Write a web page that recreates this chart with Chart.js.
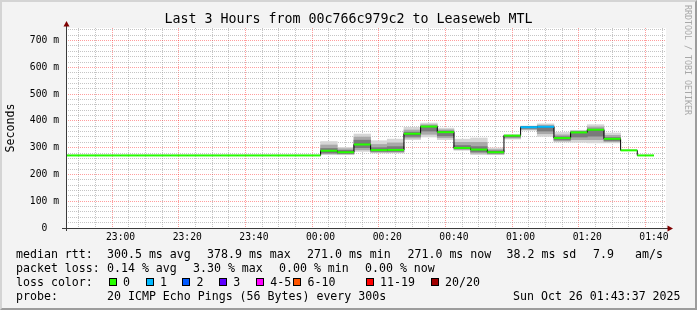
<!DOCTYPE html>
<html>
<head>
<meta charset="utf-8">
<script src="https://cdn.jsdelivr.net/npm/chart.js@4.4.1/dist/chart.umd.min.js"></script>
<style>
  html, body { margin: 0; padding: 0; background: #f3f3f3; }
  #page { position: relative; width: 697px; height: 310px; overflow: hidden; background: #f3f3f3;
          font-family: "DejaVu Sans Mono", monospace; color: #000; }
  #chart { position: absolute; left: 0; top: 0; }
  #edge { position: absolute; left: 0; top: 0; width: 697px; height: 310px; box-sizing: border-box;
          border-style: solid; border-width: 2px; border-color: #d4d4d4 #9c9c9c #9c9c9c #d4d4d4; pointer-events: none; }
  #title { position: absolute; left: 0; top: 11px; width: 697px; text-align: center; font-size: 13.3px; line-height: 16px; white-space: pre; }
  #mark { position: absolute; left: 683px; top: 5px; writing-mode: vertical-rl; font-size: 8.3px; line-height: 9px; color: #a8a8a8; white-space: pre; }
  .t { position: absolute; font-size: 11.6px; line-height: 14px; white-space: pre; }
  .box { position: absolute; width: 8px; height: 8px; box-sizing: border-box; border: 1px solid #000; }
</style>
</head>
<body>
<div id="page">
  <canvas id="chart" width="697" height="310"></canvas>
  <div id="title">Last 3 Hours from 00c766c979c2 to Leaseweb MTL</div>
  <div id="mark">RRDTOOL / TOBI OETIKER</div>

  <div class="t" style="left:16px;top:247px">median rtt:</div>
  <div class="t" style="left:107px;top:247px">300.5 ms avg</div>
  <div class="t" style="left:207px;top:247px">378.9 ms max</div>
  <div class="t" style="left:307px;top:247px">271.0 ms min</div>
  <div class="t" style="left:407.5px;top:247px">271.0 ms now</div>
  <div class="t" style="left:506.5px;top:247px">38.2 ms sd</div>
  <div class="t" style="left:593px;top:247px">7.9</div>
  <div class="t" style="left:635px;top:247px">am/s</div>

  <div class="t" style="left:16px;top:261.3px">packet loss:</div>
  <div class="t" style="left:107px;top:261.3px">0.14 % avg</div>
  <div class="t" style="left:193px;top:261.3px">3.30 % max</div>
  <div class="t" style="left:279px;top:261.3px">0.00 % min</div>
  <div class="t" style="left:365px;top:261.3px">0.00 % now</div>

  <div class="t" style="left:16px;top:275px">loss color:</div>
  <div id="lossRow"></div>

  <div class="t" style="left:16px;top:289.3px">probe:</div>
  <div class="t" style="left:107px;top:289.3px">20 ICMP Echo Pings (56 Bytes) every 300s</div>
  <div class="t" style="left:513px;top:289.3px">Sun Oct 26 01:43:37 2025</div>

  <div id="edge"></div>
</div>
<script>
// 5 minute steps, each value holds from its start time to the next one
const times = [
  '22:40', '22:45', '22:50', '22:55', '23:00', '23:05', '23:10', '23:15', '23:20',
  '23:25', '23:30', '23:35', '23:40', '23:45', '23:50', '23:55',
  '00:00', '00:05', '00:10', '00:15', '00:20', '00:25', '00:30', '00:35', '00:40',
  '00:45', '00:50', '00:55', '01:00', '01:05', '01:10', '01:15', '01:20', '01:25',
  '01:30', '01:35'
];
const medianMs = [
  271, 271, 271, 271, 271, 271, 271, 271, 271,
  271, 271, 271, 271, 271, 271, 271,
  288.5, 283, 312, 291, 291.5, 352, 378.9, 358, 299,
  293, 283, 345, 376.5, 378, 336, 357, 367, 333,
  290, 271
];
const lossCount = [
  0, 0, 0, 0, 0, 0, 0, 0, 0,
  0, 0, 0, 0, 0, 0, 0,
  0, 0, 0, 0, 0, 0, 0, 0, 0,
  0, 0, 0, 1, 1, 0, 0, 0, 0,
  0, 0
];

// smoke (spread of the 20 pings) for the steps that have it
const smokeTimes = [
  '00:00', '00:05', '00:10', '00:15', '00:20', '00:25', '00:30', '00:35', '00:40',
  '00:45', '00:50', '00:55', '01:00', '01:05', '01:10', '01:15', '01:20', '01:25'
];
const smokeOuterLo = [274, 274, 286, 280, 280, 330, 340, 330, 290, 274, 274, 332, 365, 342, 321, 320, 318, 318];
const smokeOuterHi = [323, 301, 351, 326, 332, 376, 392, 373, 332, 336, 299, 348, 381, 389, 357, 365, 386, 355];
const smokeMidLo   = [277, 276, 292, 283, 283, 336, 350, 337, 293, 279, 276, 336, 368, 352, 325, 330, 330, 322];
const smokeMidHi   = [310, 296, 340, 312, 318, 366, 386, 367, 320, 320, 293, 347, 379, 384, 348, 362, 378, 346];
const smokeInnerLo = [280, 278, 300, 286, 286, 342, 362, 344, 296, 284, 279, 340, 372, 362, 329, 340, 343, 326];
const smokeInnerHi = [297, 290, 328, 300, 304, 358, 381, 362, 308, 304, 288, 346, 378, 380, 341, 359, 370, 338];

const lossLabels = ['0', '1', '2', '3', '4-5', '6-10', '11-19', '20/20'];
const lossUpTo   = [0, 1, 2, 3, 5, 10, 19, 20];
const lossColors = ['#26ff00', '#00b8ff', '#0059ff', '#5e00ff', '#ff00ff', '#ff5500', '#ff0000', '#a00000'];

const xTickLabels = ['23:00', '23:20', '23:40', '00:00', '00:20', '00:40', '01:00', '01:20', '01:40'];
const yTickValues = [0, 100, 200, 300, 400, 500, 600, 700];
const yTickLabels = ['0  ', '100 m', '200 m', '300 m', '400 m', '500 m', '600 m', '700 m'];

const viewStart = '22:43:37';
const viewEnd = '01:43:37';
const stepMin = 5;     // minor time grid, minutes
const yMax = 747;
const yMinorStep = 20; // minor value grid, ms

// minutes relative to midnight, evening hours go negative
function toMin(t) {
  const p = t.split(':').map(Number);
  let m = p[0] * 60 + p[1] + (p[2] || 0) / 60;
  if (p[0] >= 12) m -= 1440;
  return m;
}
function lossColor(n) {
  for (let i = 0; i < lossUpTo.length; i++) if (n <= lossUpTo[i]) return lossColors[i];
  return lossColors[lossColors.length - 1];
}

const xMin = toMin(viewStart), xMax = toMin(viewEnd);
const xTickMin = xTickLabels.map(toMin);
const tMin = times.map(toMin);
const sMin = smokeTimes.map(toMin);

// loss color legend row
const lossBoxX = [108.7, 145.7, 182.3, 219, 256, 293.3, 365.7, 430.7];
const row = document.getElementById('lossRow');
lossLabels.forEach((lab, i) => {
  const b = document.createElement('div');
  b.className = 'box';
  b.style.left = lossBoxX[i] + 'px';
  b.style.top = '277.5px';
  b.style.background = lossColors[i];
  row.appendChild(b);
  const s = document.createElement('div');
  s.className = 't';
  s.style.left = (lossBoxX[i] + 14.3) + 'px';
  s.style.top = '275px';
  s.textContent = lab;
  row.appendChild(s);
});

function band(lo, hi) {
  return sMin.map((t, i) => ({ x: t + stepMin / 2, y: [lo[i], hi[i]] }));
}

// black step line through the medians, closed at the end of the last step
const stepLine = tMin.map((t, i) => ({ x: t, y: medianMs[i] }));
stepLine.push({ x: tMin[tMin.length - 1] + stepMin, y: medianMs[medianMs.length - 1] });

// loss coloured median pieces, one per step
const medianPieces = [];
tMin.forEach((t, i) => {
  medianPieces.push({ x: t, y: medianMs[i] }, { x: t + stepMin, y: medianMs[i] }, { x: t + stepMin, y: null });
});

const barBase = { type: 'bar', grouped: false, barPercentage: 1, categoryPercentage: 1, borderWidth: 0 };

const datasets = [
  Object.assign({ data: band(smokeOuterLo, smokeOuterHi), backgroundColor: '#d6d6d6', order: 5 }, barBase),
  Object.assign({ data: band(smokeMidLo, smokeMidHi), backgroundColor: '#a9a9a9', order: 4 }, barBase),
  Object.assign({ data: band(smokeInnerLo, smokeInnerHi), backgroundColor: '#7a7a7a', order: 3 }, barBase),
  {
    type: 'line', data: stepLine, stepped: 'before', borderColor: '#000', borderWidth: 1,
    pointRadius: 0, fill: false, order: 2
  },
  {
    type: 'line', data: medianPieces, borderWidth: 2, pointRadius: 0, fill: false, spanGaps: false,
    borderCapStyle: 'butt', order: 1,
    borderColor: lossColors[0],
    segment: { borderColor: c => lossColor(lossCount[Math.floor(c.p0DataIndex / 3)]) }
  }
];

const rrdFrame = {
  id: 'rrdFrame',
  beforeDraw(chart) {
    const { ctx, chartArea: a } = chart;
    ctx.save();
    ctx.fillStyle = '#fff';
    ctx.fillRect(a.left, a.top, a.right - a.left, a.bottom - a.top);
    ctx.restore();
  },
  afterDraw(chart) {
    const { ctx, chartArea: a } = chart;
    ctx.save();
    ctx.strokeStyle = '#3a3a3a';
    ctx.lineWidth = 1;
    ctx.beginPath();
    ctx.moveTo(a.left + 0.5, a.bottom + 3);
    ctx.lineTo(a.left + 0.5, a.top - 2);
    ctx.moveTo(a.left - 4, a.bottom + 0.5);
    ctx.lineTo(a.right + 2, a.bottom + 0.5);
    ctx.stroke();
    ctx.fillStyle = '#7f0000';
    ctx.beginPath();
    ctx.moveTo(a.left + 0.5, a.top - 7);
    ctx.lineTo(a.left - 2.5, a.top - 1.5);
    ctx.lineTo(a.left + 3.5, a.top - 1.5);
    ctx.closePath();
    ctx.fill();
    ctx.beginPath();
    ctx.moveTo(a.right + 7, a.bottom + 0.5);
    ctx.lineTo(a.right + 1.5, a.bottom - 2.5);
    ctx.lineTo(a.right + 1.5, a.bottom + 3.5);
    ctx.closePath();
    ctx.fill();
    ctx.restore();
  }
};

const tickFont = { family: 'DejaVu Sans Mono', size: 9.7 };
const majorGrid = 'rgba(255,0,0,0.38)';
const minorGrid = 'rgba(150,150,150,0.55)';

function gridColor(majors) {
  return c => (c.tick && majors.indexOf(c.tick.value) >= 0 ? majorGrid : minorGrid);
}

new Chart(document.getElementById('chart'), {
  type: 'bar',
  data: { datasets },
  options: {
    responsive: false,
    animation: false,
    events: [],
    layout: { padding: { left: 0, right: 31, top: 28, bottom: 0 } },
    plugins: { legend: { display: false }, tooltip: { enabled: false } },
    scales: {
      x: {
        type: 'linear',
        min: xMin,
        max: xMax,
        offset: false,
        afterFit: s => { s.height = 82; },
        afterBuildTicks: s => {
          const ticks = [];
          for (let v = Math.ceil(xMin / stepMin) * stepMin; v <= xMax; v += stepMin) ticks.push({ value: v });
          s.ticks = ticks;
        },
        ticks: {
          autoSkip: false, maxRotation: 0, padding: 4, color: '#000', font: tickFont,
          callback: v => {
            const i = xTickMin.indexOf(v);
            return i >= 0 ? xTickLabels[i] : '';
          }
        },
        grid: { drawTicks: false, lineWidth: 1, color: gridColor(xTickMin) },
        border: { display: false, dash: [1, 1] }
      },
      y: {
        min: 0,
        max: yMax,
        afterFit: s => { s.width = 66; },
        afterBuildTicks: s => {
          const ticks = [];
          for (let v = 0; v <= yMax; v += yMinorStep) ticks.push({ value: v });
          s.ticks = ticks;
        },
        ticks: {
          autoSkip: false, padding: 7, color: '#000', font: tickFont,
          callback: v => {
            const i = yTickValues.indexOf(v);
            return i >= 0 ? yTickLabels[i] : '';
          }
        },
        grid: { drawTicks: false, lineWidth: 1, color: gridColor(yTickValues) },
        border: { display: false, dash: [1, 1] },
        title: {
          display: true, text: 'Seconds', color: '#000',
          font: { family: 'DejaVu Sans Mono', size: 11.6 },
          padding: { top: 4, bottom: 0 }
        }
      }
    }
  },
  plugins: [rrdFrame]
});
</script>
</body>
</html>
